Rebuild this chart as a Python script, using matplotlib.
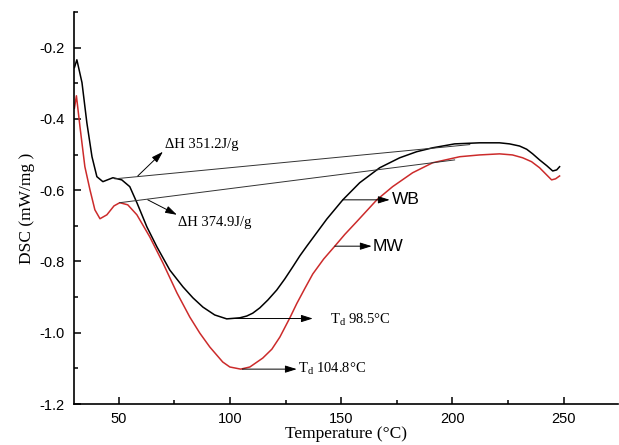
import numpy as np
import matplotlib
matplotlib.use("Agg")
import matplotlib.pyplot as plt
from matplotlib.ticker import MultipleLocator, FormatStrFormatter

plt.rcParams['axes.unicode_minus'] = False

# DSC curves (temperature in C, heat flow in mW/mg)
wb_t = [30.0, 31.1, 33.4, 35.6, 37.9, 40.1, 42.8, 47.3, 51.3, 54.9, 58.1, 62.6,
        67.1, 72.9, 78.8, 83.3, 87.8, 93.1, 98.5, 104.4, 107.5, 110.2, 113.4,
        117.0, 121.0, 124.6, 128.2, 131.4, 134.5, 139.0, 143.5, 150.7, 158.3,
        167.3, 176.3, 183.9, 191.1, 201.0, 212.2, 221.2, 225.7, 230.2, 233.4,
        236.1, 239.2, 242.4, 245.1, 246.9, 248.2]
wb_y = [-0.256, -0.234, -0.298, -0.411, -0.506, -0.562, -0.576, -0.565, -0.571,
        -0.590, -0.635, -0.703, -0.759, -0.824, -0.871, -0.902, -0.928, -0.950,
        -0.961, -0.958, -0.953, -0.945, -0.930, -0.908, -0.880, -0.849, -0.815,
        -0.784, -0.757, -0.719, -0.681, -0.627, -0.579, -0.537, -0.509, -0.492,
        -0.481, -0.470, -0.467, -0.467, -0.470, -0.476, -0.485, -0.498, -0.515,
        -0.531, -0.546, -0.543, -0.534]

mw_t = [30.0, 30.9, 32.5, 34.7, 37.0, 39.2, 41.5, 44.6, 47.8, 50.4, 54.0, 58.1,
        63.9, 69.8, 76.1, 81.9, 86.4, 90.9, 96.7, 99.9, 104.8, 108.9, 114.7,
        118.8, 122.4, 126.9, 130.0, 133.6, 137.2, 142.1, 147.1, 151.6, 157.0,
        166.0, 173.1, 182.1, 191.1, 203.3, 212.2, 221.2, 227.0, 231.6, 235.6,
        239.2, 241.9, 244.6, 246.4, 248.2]
mw_y = [-0.37, -0.335, -0.422, -0.534, -0.599, -0.655, -0.680, -0.669, -0.644,
        -0.635, -0.641, -0.669, -0.731, -0.804, -0.888, -0.956, -1.001, -1.040,
        -1.082, -1.096, -1.102, -1.096, -1.071, -1.046, -1.012, -0.958, -0.918,
        -0.876, -0.835, -0.793, -0.757, -0.724, -0.688, -0.627, -0.590, -0.551,
        -0.523, -0.506, -0.501, -0.498, -0.501, -0.509, -0.520, -0.537, -0.554,
        -0.571, -0.568, -0.560]

# integration baselines (start, end)
wb_base_t = [48.2, 207.8]
wb_base_y = [-0.568, -0.472]
mw_base_t = [50.4, 201.0]
mw_base_y = [-0.635, -0.515]

dh_labels = ["\u0394H 351.2J/g", "\u0394H 374.9J/g"]
td_labels = ["T$_\\mathregular{d}$ 98.5\u00b0C", "T$_\\mathregular{d}$ 104.8\u00b0C"]

red = '#cc2b2b'
serif = 'Liberation Serif'
sans = 'Liberation Sans'

fig = plt.figure(figsize=(6.19, 4.45), dpi=100)
ax = fig.add_axes([0.1195, 0.092, 0.879, 0.881])

ax.plot(wb_t, wb_y, color='black', lw=1.1)
ax.plot(mw_t, mw_y, color=red, lw=1.1)
ax.plot(wb_base_t, wb_base_y, color='#333333', lw=0.7)
ax.plot(mw_base_t, mw_base_y, color='#333333', lw=0.7)

arrow = dict(arrowstyle='-|>,head_length=0.7,head_width=0.22', color='black',
             lw=0.7, shrinkA=0, shrinkB=0)

def pointer(x0, y0, x1, y1, label, tx, ty, font, size):
    ax.annotate('', xy=(x1, y1), xytext=(x0, y0), arrowprops=arrow)
    ax.text(tx, ty, label, family=font, fontsize=size, ha='left', va='center')

pointer(58.5, -0.560, 69.8, -0.492, dh_labels[0], 70.7, -0.472, serif, 10.5)
pointer(63.0, -0.627, 76.1, -0.669, dh_labels[1], 76.5, -0.691, serif, 10.5)
pointer(150.7, -0.627, 171.8, -0.627, "WB", 172.6, -0.627, sans, 12.5)
pointer(147.1, -0.757, 163.7, -0.757, "MW", 164.2, -0.757, sans, 12.5)
pointer(99.5, -0.960, 137.2, -0.960, td_labels[0], 144.8, -0.963, serif, 10.5)
pointer(105.5, -1.102, 130.0, -1.102, td_labels[1], 130.6, -1.102, serif, 10.5)

ax.set_xlim(29.8, 274.5)
ax.set_ylim(-1.2, -0.1)
ax.xaxis.set_major_locator(MultipleLocator(50))
ax.xaxis.set_minor_locator(MultipleLocator(25))
ax.yaxis.set_major_locator(MultipleLocator(0.2))
ax.yaxis.set_minor_locator(MultipleLocator(0.1))
ax.yaxis.set_major_formatter(FormatStrFormatter('%.1f'))

for s in ['top', 'right']:
    ax.spines[s].set_visible(False)
for s in ['left', 'bottom']:
    ax.spines[s].set_linewidth(1.2)

ax.tick_params(which='both', direction='in', width=1.1)
ax.tick_params(which='major', length=5)
ax.tick_params(which='minor', length=3)
ax.tick_params(axis='x', pad=6)
ax.tick_params(axis='y', pad=7)
for lab in ax.get_xticklabels() + ax.get_yticklabels():
    lab.set_family(sans)
    lab.set_fontsize(10.5)

ax.set_xlabel("Temperature (\u00b0C)", family=serif, fontsize=12.5, labelpad=0)
ax.set_ylabel("DSC (mW/mg )", family=serif, fontsize=12.5, labelpad=3)

fig.savefig("out.png", dpi=100)
